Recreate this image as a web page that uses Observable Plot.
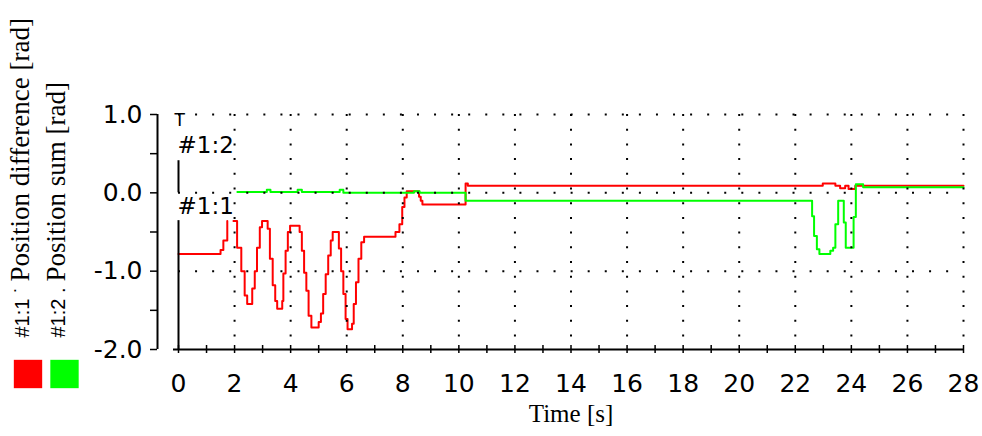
<!DOCTYPE html>
<html><head><meta charset="utf-8">
<script src="https://cdn.jsdelivr.net/npm/d3@7"></script>
<script src="https://cdn.jsdelivr.net/npm/@observablehq/plot@0.6"></script>
<style>html,body{margin:0;padding:0;background:#fff;} #chart svg{display:block}</style>
</head><body><div id="chart"></div>
<script>
// Series #1:1 — Position difference [rad] (step samples, NaN = gap)
const diffT = [0, 1.50, 1.60, 1.74, 1.85, 1.96, 2.09, 2.24, 2.36, 2.45, 2.63, 2.72, 2.80, 2.90, 2.98, 3.18, 3.26, 3.36, 3.45, 3.52, 3.70, 3.74, 3.82, 3.90, 3.98, 4.32, 4.40, 4.48, 4.56, 4.64, 4.74, 5.00, 5.08, 5.16, 5.25, 5.34, 5.43, 5.50, 5.72, 5.80, 5.88, 5.96, 6.03, 6.19, 6.25, 6.33, 6.42, 6.52, 6.62, 7.74, 7.88, 7.98, 8.06, 8.14, 8.58, 8.64, 8.70, 10.24, 10.32, 22.98, 23.43, 23.60, 23.78, 23.90, 24.14, 28.0];
const diffV = [-0.78, -0.73, -0.61, -0.36, NaN, -0.36, -0.70, -1.00, -1.31, -1.42, -1.22, -1.00, -0.70, -0.44, -0.36, -0.46, -0.84, -1.18, -1.38, -1.48, -1.38, -1.03, -0.74, -0.50, -0.42, -0.50, -0.74, -1.02, -1.25, -1.57, -1.72, -1.65, -1.54, -1.29, -1.04, -0.80, -0.61, -0.50, -0.71, -1.00, -1.29, -1.61, -1.74, -1.67, -1.42, -1.14, -0.84, -0.63, -0.56, -0.50, -0.40, -0.18, -0.06, 0.02, -0.05, -0.10, -0.15, 0.12, 0.09, 0.12, 0.09, 0.06, 0.09, 0.05, 0.09, 0.09];
// Series #1:2 — Position sum [rad]
const sumT = [2.10, 3.15, 3.28, 4.25, 4.40, 5.75, 5.88, 8.40, 8.60, 10.24, 22.60, 22.67, 22.77, 22.86, 23.25, 23.35, 23.43, 23.53, 23.73, 23.80, 24.08, 24.16, 24.42, 28.0];
const sumV = [0.01, 0.04, 0.01, 0.04, 0.01, 0.04, 0.0, 0.02, 0.0, -0.10, -0.30, -0.55, -0.72, -0.78, -0.74, -0.70, -0.40, -0.10, -0.38, -0.70, -0.31, 0.11, 0.07, 0.07];

const seriesNames = ["#1:1", "#1:2"];
const seriesTitles = ["Position difference [rad]", "Position sum [rad]"];
const seriesColors = ["#ff0000", "#00ff00"];
const xTicks = d3.range(0, 29, 1);
const xLabels = d3.range(0, 29, 2);
const yTicks = [1, 0.5, 0, -0.5, -1, -1.5, -2];
const yGrid = [1, 0, -1];
const xTitle = "Time [s]";

const diff = diffT.map((t, i) => ({t, v: diffV[i]}));
const sum = sumT.map((t, i) => ({t, v: sumV[i]}));

const dotted = {stroke: "#000", strokeOpacity: 1, strokeWidth: 2};

const plot = Plot.plot({
  width: 982, height: 436,
  marginLeft: 178, marginRight: 19, marginTop: 114, marginBottom: 87,
  x: {domain: [0, 28]},
  y: {domain: [-2, 1]},
  style: {background: "#fff", color: "#000", fontFamily: "DejaVu Sans", overflow: "visible"},
  marks: [
    Plot.line(diff, {x: "t", y: "v", curve: "step-after", stroke: seriesColors[0], strokeWidth: 2}),
    Plot.line(sum, {x: "t", y: "v", curve: "step-after", stroke: seriesColors[1], strokeWidth: 2}),
    Plot.gridX(xLabels.filter(d => d > 0), {...dotted, strokeDasharray: "2,12.7"}),
    Plot.gridY(yGrid, {...dotted, strokeDasharray: "2,15.07"}),
    // x axis
    Plot.ruleY([-2], {insetLeft: -5, strokeWidth: 2}),
    Plot.axisX(xTicks, {tickSize: 8, dy: -4, strokeWidth: 1.5, tickFormat: () => "", label: null}),
    Plot.axisX(xLabels, {tickSize: 0, tickPadding: 25, fontSize: 25, fontFamily: "DejaVu Sans", label: null}),
    Plot.text([xTitle], {frameAnchor: "bottom", dy: 64, lineAnchor: "middle", fontFamily: "Liberation Serif", fontSize: 25}),
    // y axis (offset left of the frame)
    Plot.ruleX([0], {y1: -2, y2: 1, dx: -21, strokeWidth: 2}),
    Plot.axisY(yTicks, {tickSize: 7, dx: -21, tickPadding: 8, strokeWidth: 1.5, fontSize: 25, fontFamily: "DejaVu Sans",
      tickFormat: d => Number.isInteger(d) ? d.toFixed(1) : "", label: null}),
    // channel marker line at t = 0
    Plot.ruleX([0], {y1: 0.41, y2: 0, strokeWidth: 2}),
    Plot.ruleX([0], {y1: -0.355, y2: -2, strokeWidth: 2}),
    Plot.text(["T"], {x: 0, y: 1, textAnchor: "start", lineAnchor: "top", dx: -4, dy: -1, fontSize: 17, fontFamily: "DejaVu Sans"}),
    Plot.text([seriesNames[1]], {x: 0, y: 0.604, textAnchor: "start", dx: -1, fontSize: 23, fontFamily: "DejaVu Sans"}),
    Plot.text([seriesNames[0]], {x: 0, y: -0.175, textAnchor: "start", dx: -1, fontSize: 23, fontFamily: "DejaVu Sans"}),
    // rotated legend labels on the left
    Plot.text([seriesNames[0] + " \u02D9"], {frameAnchor: "bottom-left", rotate: -90, textAnchor: "start", dx: -150, dy: -12, fontSize: 20, fontFamily: "Liberation Sans"}),
    Plot.text([seriesNames[1] + " ."], {frameAnchor: "bottom-left", rotate: -90, textAnchor: "start", dx: -114, dy: -12, fontSize: 20, fontFamily: "Liberation Sans"}),
    Plot.text([seriesTitles[0]], {frameAnchor: "bottom-left", rotate: -90, textAnchor: "start", dx: -150, dy: -68, fontSize: 27, fontFamily: "Liberation Serif"}),
    Plot.text([seriesTitles[1]], {frameAnchor: "bottom-left", rotate: -90, textAnchor: "start", dx: -114, dy: -68, fontSize: 27, fontFamily: "Liberation Serif"}),
    Plot.dot([seriesNames[0]], {frameAnchor: "bottom-left", dx: -150.5, dy: 24.5, symbol: "square", r: 16, fill: seriesColors[0]}),
    Plot.dot([seriesNames[1]], {frameAnchor: "bottom-left", dx: -114, dy: 24.5, symbol: "square", r: 16, fill: seriesColors[1]})
  ]
});
document.getElementById("chart").appendChild(plot);
</script>
</body></html>
